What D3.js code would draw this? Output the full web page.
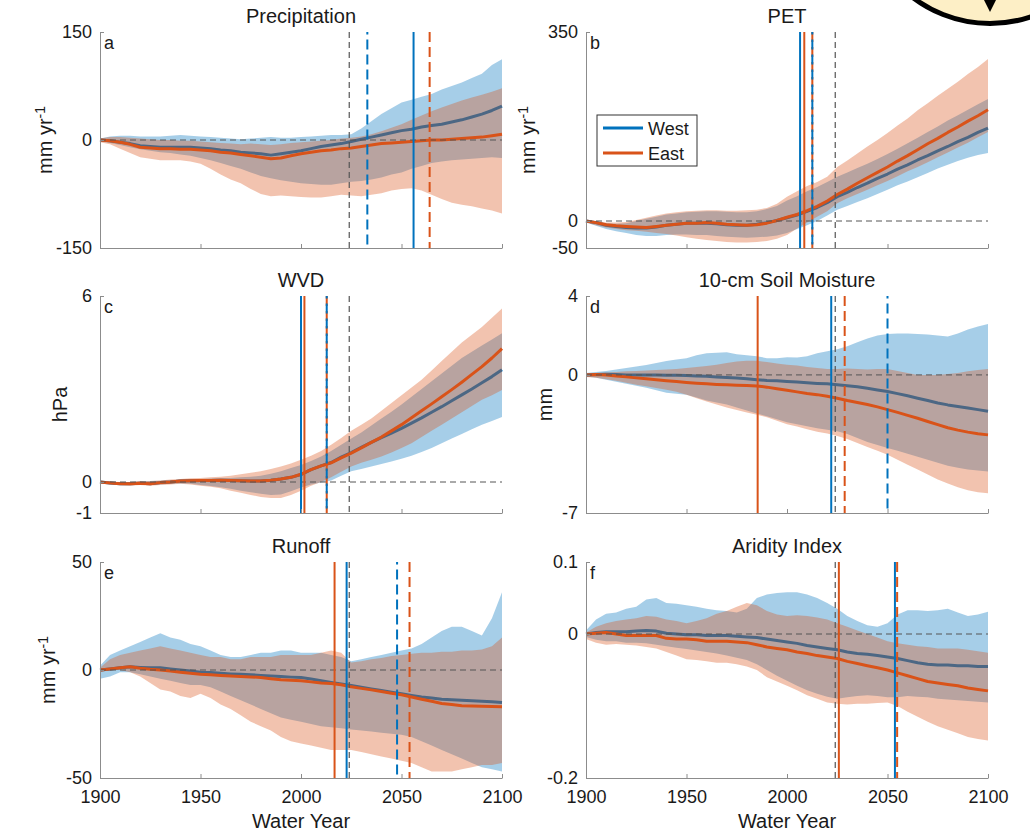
<!DOCTYPE html>
<html>
<head>
<meta charset="utf-8">
<script src="https://cdn.jsdelivr.net/npm/d3@7"></script>
<style>
  body { margin: 0; background: #fff; }
  svg { display: block; }
  text { font-family: "Liberation Sans", Arial, Helvetica, sans-serif; fill: #1a1a1a; }
</style>
</head>
<body>
<svg id="fig" width="1030" height="832"></svg>
<script>
// ---------------- data ----------------
const years = [1900,1905,1910,1915,1920,1925,1930,1935,1940,1945,1950,1955,1960,1965,1970,1975,1980,1985,1990,1995,
               2000,2005,2010,2015,2020,2025,2030,2035,2040,2045,2050,2055,2060,2065,2070,2075,2080,2085,2090,2095,2100];
const xTickYears = [1900, 1950, 2000, 2050, 2100];
const referenceYear = 2024;

// (a) Precipitation, mm/yr
const precipWestMean = [0,-1,-3,-5,-8,-9,-10,-10,-10,-10,-11,-12,-14,-15,-17,-18,-19,-21,-19,-17,-15,-12,-9,-7,-5,-2,1,4,7,10,13,15,18,20,22,25,28,32,36,41,47];
const precipWestLow  = [-2,-4,-7,-10,-13,-15,-17,-18,-20,-22,-25,-28,-32,-36,-40,-45,-50,-53,-56,-58,-60,-61,-62,-62,-60,-58,-57,-55,-52,-48,-45,-40,-36,-32,-30,-28,-27,-26,-25,-24,-25];
const precipWestHigh = [2,5,6,6,5,5,5,6,7,6,5,4,3,2,1,2,3,4,3,3,4,5,6,7,7,8,16,26,36,44,52,56,60,64,70,75,80,86,92,104,112];
const precipEastMean = [0,-1,-3,-6,-10,-11,-12,-12,-13,-13,-14,-15,-17,-18,-20,-22,-24,-26,-25,-22,-19,-17,-15,-14,-12,-11,-9,-7,-5,-4,-3,-2,-1,0,0,1,2,3,4,6,8];
const precipEastLow  = [-3,-6,-12,-18,-24,-26,-28,-28,-28,-30,-33,-40,-48,-55,-60,-68,-75,-78,-77,-78,-79,-80,-80,-78,-76,-77,-78,-76,-74,-70,-68,-67,-70,-76,-82,-87,-90,-92,-95,-98,-102];
const precipEastHigh = [2,4,4,3,2,1,0,0,-1,-1,-2,-3,-4,-5,-6,-5,-6,-7,-6,-4,-3,-2,-1,0,2,3,5,8,12,17,22,28,34,40,45,50,55,59,63,67,72];

// (b) PET, mm/yr
const petWestMean = [0,-3,-8,-10,-12,-13,-13,-11,-8,-6,-4,-4,-4,-5,-7,-8,-8,-6,-3,1,6,11,18,25,34,45,53,62,70,79,87,96,104,113,121,130,138,147,155,164,172];
const petWestLow  = [-3,-9,-15,-19,-22,-26,-28,-28,-26,-25,-25,-26,-26,-28,-29,-30,-31,-30,-29,-27,-22,-15,-8,0,10,21,28,35,42,50,58,66,73,81,89,97,104,111,117,122,126];
const petWestHigh = [1,-1,-4,-5,-4,0,4,8,12,14,16,17,18,18,17,16,16,18,22,28,38,46,55,63,72,82,90,98,106,115,124,134,144,154,165,175,186,196,206,216,226];
const petEastMean = [0,-3,-7,-9,-10,-11,-12,-10,-8,-6,-4,-4,-3,-4,-6,-7,-8,-7,-4,1,7,12,19,27,37,49,59,70,80,90,100,111,121,132,143,153,164,174,185,195,206];
const petEastLow  = [-3,-8,-12,-15,-17,-18,-20,-22,-24,-27,-30,-33,-35,-37,-39,-40,-40,-39,-37,-33,-26,-14,-3,8,18,33,42,50,58,66,74,83,92,100,109,118,127,136,145,155,165];
const petEastHigh = [2,0,-3,-3,-2,2,6,10,14,16,18,19,20,20,19,19,20,21,24,32,45,55,65,72,82,100,112,125,138,150,163,177,190,205,218,232,245,258,272,285,300];

// (c) WVD, hPa
const wvdWestMean = [0,-0.03,-0.06,-0.06,-0.04,-0.06,-0.02,0,0.03,0.04,0.05,0.05,0.06,0.05,0.04,0.03,0.03,0.06,0.1,0.15,0.24,0.4,0.52,0.63,0.8,0.95,1.12,1.28,1.43,1.58,1.73,1.9,2.07,2.25,2.43,2.62,2.81,3.0,3.2,3.4,3.62];
const wvdWestLow  = [-0.02,-0.05,-0.08,-0.1,-0.08,-0.1,-0.08,-0.06,-0.05,-0.06,-0.1,-0.13,-0.17,-0.22,-0.28,-0.33,-0.38,-0.42,-0.4,-0.3,-0.18,-0.08,-0.02,0.05,0.2,0.35,0.42,0.5,0.58,0.66,0.75,0.85,0.97,1.1,1.25,1.4,1.55,1.7,1.85,1.97,2.1];
const wvdWestHigh = [0.01,0,-0.01,0,0.02,0.03,0.04,0.06,0.08,0.09,0.1,0.11,0.12,0.13,0.15,0.17,0.2,0.27,0.35,0.45,0.55,0.68,0.82,1.0,1.2,1.4,1.6,1.82,2.05,2.27,2.5,2.75,3.0,3.25,3.5,3.75,4.0,4.2,4.4,4.6,4.8];
const wvdEastMean = [0,-0.03,-0.06,-0.06,-0.04,-0.06,-0.02,0,0.03,0.04,0.05,0.05,0.06,0.05,0.04,0.03,0.03,0.06,0.1,0.15,0.25,0.4,0.52,0.62,0.78,0.93,1.1,1.28,1.45,1.65,1.85,2.07,2.3,2.52,2.75,2.98,3.22,3.47,3.72,4.0,4.3];
const wvdEastLow  = [-0.02,-0.06,-0.1,-0.12,-0.1,-0.12,-0.1,-0.08,-0.06,-0.08,-0.12,-0.15,-0.2,-0.28,-0.35,-0.42,-0.48,-0.52,-0.52,-0.42,-0.28,-0.12,0,0.15,0.33,0.5,0.62,0.72,0.82,0.95,1.1,1.25,1.45,1.65,1.85,2.05,2.25,2.45,2.65,2.8,2.97];
const wvdEastHigh = [0.02,0.02,0,0,0.03,0.03,0.05,0.08,0.1,0.12,0.13,0.15,0.17,0.2,0.25,0.3,0.35,0.42,0.5,0.6,0.72,0.85,1.0,1.2,1.42,1.65,1.85,2.05,2.3,2.55,2.8,3.05,3.3,3.6,3.9,4.2,4.5,4.75,5.0,5.3,5.6];

// (d) 10-cm soil moisture, mm
const soilWestMean = [0,0.02,0.03,0.02,0,0,0,-0.01,-0.02,-0.02,-0.03,-0.05,-0.07,-0.1,-0.13,-0.16,-0.2,-0.24,-0.28,-0.3,-0.33,-0.36,-0.4,-0.43,-0.45,-0.5,-0.55,-0.6,-0.68,-0.76,-0.84,-0.95,-1.06,-1.18,-1.3,-1.42,-1.52,-1.6,-1.68,-1.76,-1.84];
const soilWestLow  = [-0.08,-0.15,-0.25,-0.35,-0.45,-0.55,-0.65,-0.78,-0.9,-0.95,-1.0,-1.15,-1.3,-1.4,-1.5,-1.65,-1.8,-1.95,-2.1,-2.25,-2.4,-2.5,-2.6,-2.7,-2.78,-2.85,-3.0,-3.2,-3.4,-3.55,-3.7,-3.85,-4.0,-4.15,-4.3,-4.45,-4.6,-4.7,-4.8,-4.85,-4.9];
const soilWestHigh = [0.1,0.15,0.2,0.28,0.35,0.42,0.5,0.6,0.7,0.78,0.85,1.0,1.1,1.12,1.15,1.05,1.0,0.95,0.85,0.85,0.9,0.88,0.95,1.1,1.2,1.3,1.45,1.65,1.85,2.0,2.08,2.1,2.1,2.08,2.05,2.0,1.95,2.1,2.3,2.45,2.58];
const soilEastMean = [0,0.02,0,-0.05,-0.1,-0.15,-0.2,-0.25,-0.3,-0.34,-0.38,-0.42,-0.45,-0.48,-0.5,-0.52,-0.54,-0.56,-0.62,-0.7,-0.78,-0.86,-0.94,-1.0,-1.08,-1.18,-1.3,-1.4,-1.5,-1.62,-1.76,-1.9,-2.05,-2.2,-2.36,-2.52,-2.68,-2.8,-2.9,-2.98,-3.04];
const soilEastLow  = [-0.1,-0.15,-0.22,-0.3,-0.4,-0.5,-0.58,-0.66,-0.75,-0.85,-1.0,-1.18,-1.35,-1.5,-1.65,-1.78,-1.9,-2.02,-2.15,-2.32,-2.5,-2.62,-2.75,-2.88,-2.97,-3.1,-3.25,-3.45,-3.65,-3.85,-4.05,-4.3,-4.55,-4.8,-5.05,-5.3,-5.5,-5.7,-5.85,-5.95,-6.0];
const soilEastHigh = [0.08,0.1,0.12,0.15,0.18,0.2,0.22,0.25,0.28,0.3,0.35,0.4,0.45,0.52,0.6,0.68,0.72,0.72,0.65,0.58,0.52,0.48,0.4,0.35,0.3,0.3,0.32,0.3,0.28,0.3,0.3,0.2,0.1,0,0,0,0.05,0.1,0.18,0.25,0.3];

// (e) Runoff, mm/yr
const runoffWestMean = [0,0.5,1,1.5,1.2,1,1,0.5,0,-0.5,-1,-1.2,-1.5,-1.8,-2,-2.2,-2.5,-2.8,-3,-3.3,-3.5,-4.2,-5,-5.8,-6.5,-7.2,-8,-8.8,-9.5,-10.3,-11,-11.8,-12.5,-13,-13.5,-13.8,-14,-14.2,-14.5,-14.7,-15];
const runoffWestLow  = [-4,-3,-1,-1,-2,-3,-4,-5,-6,-7,-7,-8,-10,-12,-14,-16,-18,-20,-22,-23,-24,-25,-26,-26.5,-27,-27.5,-28,-28.5,-29,-29.5,-30,-31,-33,-35,-37,-39,-41,-43,-45,-46,-47];
const runoffWestHigh = [2,7,9,11,13,15,17,15,14,12,11,9,7,6,6,7,8,8,9,9,8,8,8,7,6,4,5,6,7,8,9,10,12,15,18,20,20,18,16,24,36];
const runoffEastMean = [0,0.5,1,1.5,0.8,0.3,0,-0.5,-1,-1.5,-2,-2.2,-2.5,-2.8,-3,-3.2,-3.5,-4,-4.5,-4.8,-5,-5.5,-6,-6.3,-6.8,-7.8,-8.5,-9.2,-10,-10.8,-11.5,-12.5,-13.5,-14.5,-15.5,-16,-16.5,-16.7,-16.8,-16.9,-17];
const runoffEastLow  = [-1,0,0,-1,-3,-6,-9,-10,-12,-13,-11,-13,-16,-18,-21,-24,-26,-28,-31,-33,-34,-35,-36,-37,-37,-37,-38,-39,-40,-41,-42,-43,-45,-47,-47,-47,-46,-45,-44,-44,-43];
const runoffEastHigh = [1,5,7,8,9,10,11,10,9,8,7,6,6,5,5,6,6,6,7,7,7,7,8,9,8,3.5,4,5,5.5,6.5,7,7.5,8,8,8.5,8.5,9,9,9.5,11,15];

// (f) Aridity index
const aridWestMean = [0,0.002,0.003,0.003,0.003,0.004,0.005,0.004,0.001,0,-0.001,-0.001,-0.002,-0.002,-0.002,-0.003,-0.004,-0.005,-0.007,-0.009,-0.011,-0.013,-0.016,-0.018,-0.02,-0.022,-0.025,-0.027,-0.028,-0.03,-0.032,-0.034,-0.037,-0.04,-0.042,-0.043,-0.043,-0.044,-0.044,-0.045,-0.045];
const aridWestLow  = [-0.004,-0.008,-0.01,-0.01,-0.012,-0.012,-0.013,-0.015,-0.017,-0.019,-0.021,-0.023,-0.025,-0.027,-0.03,-0.033,-0.036,-0.042,-0.05,-0.058,-0.065,-0.072,-0.078,-0.083,-0.087,-0.09,-0.088,-0.086,-0.085,-0.086,-0.088,-0.088,-0.086,-0.087,-0.088,-0.09,-0.091,-0.092,-0.093,-0.094,-0.095];
const aridWestHigh = [0.005,0.02,0.028,0.03,0.035,0.038,0.048,0.05,0.043,0.042,0.04,0.038,0.035,0.033,0.032,0.03,0.035,0.05,0.055,0.057,0.058,0.058,0.055,0.05,0.043,0.035,0.025,0.018,0.012,0.01,0.015,0.027,0.033,0.033,0.032,0.033,0.035,0.03,0.025,0.027,0.031];
const aridEastMean = [0,0.001,0.002,0,-0.002,-0.002,-0.002,-0.002,-0.006,-0.007,-0.007,-0.008,-0.01,-0.01,-0.01,-0.011,-0.012,-0.015,-0.018,-0.02,-0.022,-0.025,-0.027,-0.03,-0.032,-0.034,-0.038,-0.041,-0.044,-0.047,-0.05,-0.054,-0.058,-0.062,-0.066,-0.068,-0.07,-0.072,-0.075,-0.077,-0.079];
const aridEastLow  = [-0.007,-0.012,-0.015,-0.014,-0.015,-0.016,-0.018,-0.02,-0.025,-0.03,-0.035,-0.036,-0.038,-0.04,-0.04,-0.042,-0.045,-0.05,-0.06,-0.066,-0.072,-0.078,-0.085,-0.09,-0.095,-0.097,-0.098,-0.097,-0.097,-0.096,-0.095,-0.1,-0.108,-0.115,-0.122,-0.128,-0.133,-0.138,-0.143,-0.146,-0.148];
const aridEastHigh = [0.002,0.01,0.015,0.018,0.02,0.022,0.025,0.024,0.02,0.018,0.015,0.018,0.022,0.028,0.032,0.038,0.043,0.04,0.032,0.027,0.025,0.026,0.025,0.023,0.02,0.015,0.01,0.005,0,-0.005,-0.01,-0.013,-0.015,-0.017,-0.018,-0.02,-0.02,-0.02,-0.022,-0.024,-0.026];

// emergence years (solid / dashed verticals), one entry per panel a..f
const westSolidYears  = [2056, 2006.5, 2000, 2022, 2022.7, 2053.7];
const westDashedYears = [2033, 2012.6, 2012.8, 2050, 2047.8, null];
const eastSolidYears  = [null, 2008.6, 2001.7, 1985.4, 2016.7, 2025.8];
const eastDashedYears = [2064, 2012.6, 2012.8, 2028.7, 2054, 2054.8];

const panelTitles  = ["Precipitation", "PET", "WVD", "10-cm Soil Moisture", "Runoff", "Aridity Index"];
const panelLetters = ["a", "b", "c", "d", "e", "f"];
const yUnits       = ["mm yr|-1", "mm yr|-1", "hPa", "mm", "mm yr|-1", ""];
const yTickSets    = [[-150, 0, 150], [-50, 0, 350], [-1, 0, 6], [-7, 0, 4], [-50, 0, 50], [-0.2, 0, 0.1]];
const legendLabels = ["West", "East"];

const series = [
  { west: [precipWestMean, precipWestLow, precipWestHigh], east: [precipEastMean, precipEastLow, precipEastHigh] },
  { west: [petWestMean, petWestLow, petWestHigh],          east: [petEastMean, petEastLow, petEastHigh] },
  { west: [wvdWestMean, wvdWestLow, wvdWestHigh],          east: [wvdEastMean, wvdEastLow, wvdEastHigh] },
  { west: [soilWestMean, soilWestLow, soilWestHigh],       east: [soilEastMean, soilEastLow, soilEastHigh] },
  { west: [runoffWestMean, runoffWestLow, runoffWestHigh], east: [runoffEastMean, runoffEastLow, runoffEastHigh] },
  { west: [aridWestMean, aridWestLow, aridWestHigh],       east: [aridEastMean, aridEastLow, aridEastHigh] }
];

// ---------------- layout & style ----------------
const WEST = "#0072BD", EAST = "#D95319";
const BAND_OPACITY = 0.35;
const colX = [[100, 502], [586, 988]];
const rowY = [[32, 248], [296, 513], [562, 778]];
const yLabelOffset = [-48, -51, -33, -34, -45, 0];

const svg = d3.select("#fig");

// decorative badge in the upper right corner
svg.append("circle").attr("cx", 990).attr("cy", -104).attr("r", 127.5)
  .attr("fill", "#FDEFC6").attr("stroke", "#000").attr("stroke-width", 5);
svg.append("path").attr("d", "M984,0 L996,0 L990,12 Z").attr("fill", "#000");

series.forEach((s, p) => {
  const col = p % 2, row = Math.floor(p / 2);
  const [x0, x1] = colX[col], [y0, y1] = rowY[row];
  const ticks = yTickSets[p];
  const x = d3.scaleLinear().domain([1900, 2100]).range([x0, x1]);
  const y = d3.scaleLinear().domain([ticks[0], ticks[2]]).range([y1, y0]);
  const g = svg.append("g");

  const area = (lo, hi) => d3.area()
    .x((d, i) => x(years[i])).y0((d, i) => y(lo[i])).y1((d, i) => y(hi[i]))(years);
  const line = (m) => d3.line().x((d, i) => x(years[i])).y((d, i) => y(m[i]))(years);

  // West band + mean, then East band + mean on top
  g.append("path").attr("d", area(s.west[1], s.west[2])).attr("fill", WEST).attr("fill-opacity", BAND_OPACITY);
  g.append("path").attr("d", line(s.west[0])).attr("fill", "none").attr("stroke", WEST)
    .attr("stroke-width", 3).attr("stroke-linejoin", "round");
  g.append("path").attr("d", area(s.east[1], s.east[2])).attr("fill", EAST).attr("fill-opacity", BAND_OPACITY);
  g.append("path").attr("d", line(s.east[0])).attr("fill", "none").attr("stroke", EAST)
    .attr("stroke-width", 3).attr("stroke-linejoin", "round");

  // zero reference
  g.append("line").attr("x1", x0).attr("x2", x1).attr("y1", y(0)).attr("y2", y(0))
    .attr("stroke", "#555").attr("stroke-width", 1).attr("stroke-dasharray", "6,4");

  // vertical markers
  const vline = (yr, color, dash, offset, width) => {
    if (yr == null) return;
    g.append("line").attr("x1", x(yr)).attr("x2", x(yr)).attr("y1", y0).attr("y2", y1)
      .attr("stroke", color).attr("stroke-width", width)
      .attr("stroke-dasharray", dash).attr("stroke-dashoffset", offset);
  };
  vline(referenceYear, "#555", "6,4", 0, 1.2);
  vline(eastDashedYears[p], EAST, "10,5", 0, 2);
  vline(westDashedYears[p], WEST, "10,5", 7.5, 2);
  vline(westSolidYears[p], WEST, null, 0, 2);
  vline(eastSolidYears[p], EAST, null, 0, 2);

  // axes
  const bottomRow = row === 2;
  const xAxis = d3.axisBottom(x).tickValues(xTickYears).tickSize(-4).tickSizeOuter(0).tickPadding(12)
    .tickFormat(bottomRow ? (d => String(d)) : () => "");
  const yAxis = d3.axisLeft(y).tickValues(ticks).tickSize(-4).tickSizeOuter(0).tickPadding(8)
    .tickFormat(d => String(d));
  const gx = svg.append("g").attr("transform", `translate(0,${y1})`).call(xAxis);
  const gy = svg.append("g").attr("transform", `translate(${x0},0)`).call(yAxis);
  [gx, gy].forEach(a => {
    a.select(".domain").attr("stroke", "#8c8c8c");
    a.selectAll(".tick line").attr("stroke", "#8c8c8c");
    a.selectAll(".tick text").attr("fill", "#1a1a1a").style("font-size", "18px")
      .style("font-family", '"Liberation Sans", Arial, sans-serif');
  });

  // title and panel letter
  svg.append("text").attr("x", (x0 + x1) / 2).attr("y", y0 - 9).attr("text-anchor", "middle")
    .style("font-size", "20px").text(panelTitles[p]);
  svg.append("text").attr("x", x0 + 4).attr("y", y0 + 17).style("font-size", "18px").text(panelLetters[p]);

  // y label (with optional superscript after "|")
  if (yUnits[p]) {
    const [base, sup] = yUnits[p].split("|");
    const t = svg.append("text")
      .attr("transform", `translate(${x0 + yLabelOffset[p]},${(y0 + y1) / 2}) rotate(-90)`)
      .attr("text-anchor", "middle").style("font-size", "20px");
    t.append("tspan").text(base);
    if (sup) t.append("tspan").attr("dy", "-0.5em").style("font-size", "14px").text(sup);
  }

  if (bottomRow) {
    svg.append("text").attr("x", (x0 + x1) / 2).attr("y", 828).attr("text-anchor", "middle")
      .style("font-size", "20px").text("Water Year");
  }

  // legend in the PET panel
  if (p === 1) {
    const lg = svg.append("g").attr("transform", "translate(597,115)");
    lg.append("rect").attr("width", 100).attr("height", 51).attr("fill", "#fff")
      .attr("stroke", "#333").attr("stroke-width", 1);
    [WEST, EAST].forEach((c, i) => {
      const yy = 13 + i * 25;
      lg.append("line").attr("x1", 6).attr("x2", 46).attr("y1", yy).attr("y2", yy)
        .attr("stroke", c).attr("stroke-width", 3);
      lg.append("text").attr("x", 51).attr("y", yy + 6.5).style("font-size", "18px").text(legendLabels[i]);
    });
  }
});
</script>
</body>
</html>
